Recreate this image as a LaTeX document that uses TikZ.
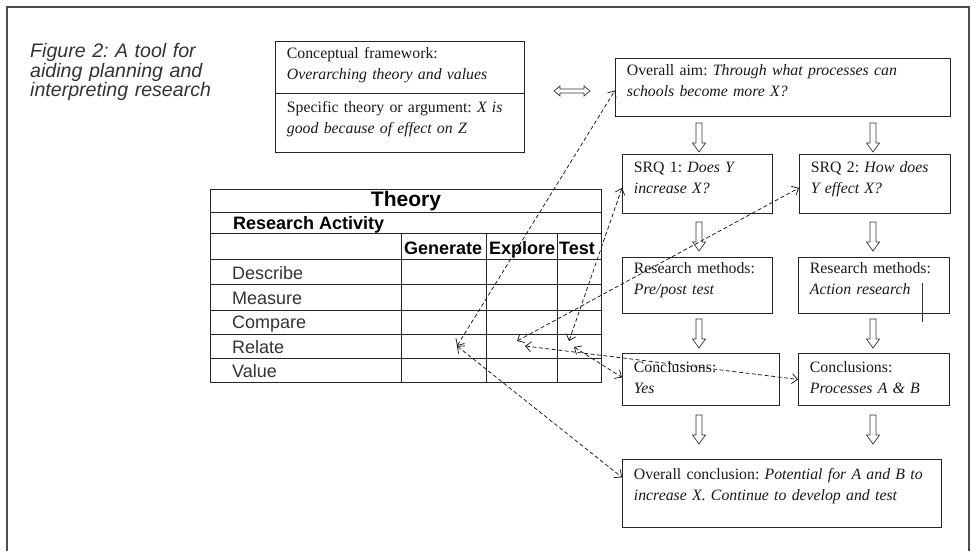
\documentclass[tikz,border=0pt]{standalone}
\usepackage{fontspec}
\setmainfont{Liberation Serif}
\newfontfamily\helv{Liberation Sans}
\usepackage{tikz}
\usetikzlibrary{arrows.meta}
\frenchspacing
\tikzset{
	box/.style={draw=black!85, line width=0.8pt, anchor=north west, align=left, inner xsep=11.5pt, inner ysep=0pt, text=black!90, font=\fontsize{15.8}{21}\selectfont},
	link/.style={draw=black!90, line width=0.75pt, dash pattern=on 4pt off 2.5pt, <->, >={Straight Barb[length=5.5pt,width=10pt]}},
	tab/.style={draw=black!85, line width=1pt},
	head/.style={anchor=base west, inner sep=0pt, font=\helv\bfseries\fontsize{18}{18}\selectfont},
	cell/.style={anchor=base west, inner sep=0pt, text=black!80, font=\helv\fontsize{18}{18}\selectfont},
	hollowdown/.pic={\draw[line width=0.7pt, draw=black!80, fill=white] (-3,0) -- (-3,20) -- (-6.5,20) -- (0,29) -- (6.5,20) -- (3,20) -- (3,0) -- cycle;},
	hollowboth/.pic={\draw[line width=0.7pt, draw=black!80, fill=white] (-18,0) -- (-12,-5) -- (-12,-2) -- (12,-2) -- (12,-5) -- (18,0) -- (12,5) -- (12,2) -- (-12,2) -- (-12,5) -- cycle;}
}
\begin{document}
\begin{tikzpicture}[x=1pt,y=-1pt]
	\useasboundingbox (0,0) rectangle (976,551);
	\draw[line width=1.6pt, draw=black!70] (6.8,551) -- (6.8,6.8) -- (969,6.8) -- (969,551);

	% caption
	\node[anchor=base west, inner sep=0pt, align=left, text width=260pt, text=black!80, font=\helv\itshape\fontsize{19.6}{19.2}\selectfont] (caption) at (30,58) {Figure 2: A tool for\\aiding planning and\\interpreting research};

	% framework
	\node[box, text width=226pt, text height=17pt, text depth=35pt] (frame) at (275,41) {Conceptual framework:\\\textit{Overarching theory and values}};
	\node[box, text width=226pt, text height=19pt, text depth=40pt] (argument) at (275,93) {Specific theory or argument: \textit{X is}\\\textit{good because of effect on Z}};
	\pic at (572,91) {hollowboth};

	% flow
	\node[box, text width=312pt, text height=17pt, text depth=41pt] (aim) at (615,58) {Overall aim: \textit{Through what processes can}\\\textit{schools become more X?}};
	\node[box, text width=127pt, text height=18pt, text depth=41pt] (srq1) at (622,154) {SRQ 1: \textit{Does Y}\\\textit{increase X?}};
	\node[box, text width=128pt, text height=18pt, text depth=41pt] (srq2) at (799,154) {SRQ 2: \textit{How does}\\\textit{Y effect X?}};
	\node[box, text width=127pt, text height=16pt, text depth=40pt] (methods1) at (622,257) {Research methods:\\\textit{Pre/post test}};
	\node[box, text width=128pt, text height=16pt, text depth=40pt] (methods2) at (798,257) {Research methods:\\\textit{Action research}};
	\node[box, text width=134pt, text height=19pt, text depth=33pt] (concl1) at (622,353) {Conclusions:\\\textit{Yes}};
	\node[box, text width=128pt, text height=19pt, text depth=33pt] (concl2) at (798,353) {Conclusions:\\\textit{Processes A \& B}};
	\node[box, text width=296pt, text height=20pt, text depth=48pt] (final) at (622,459) {Overall conclusion: \textit{Potential for A and B to}\\\textit{increase X. Continue to develop and test}};
	\draw[line width=0.7pt, draw=black!80] (922,283) -- (922,322);

	\pic at (699,123) {hollowdown};
	\pic at (873,123) {hollowdown};
	\pic at (699,222) {hollowdown};
	\pic at (873,222) {hollowdown};
	\pic at (699,319) {hollowdown};
	\pic at (873,319) {hollowdown};
	\pic at (699,415) {hollowdown};
	\pic at (873,415) {hollowdown};

	% table
	\draw[tab] (210,189) rectangle (601,382);
	\foreach \y in {212,233,259,284,310,334,358}
		\draw[tab] (210,\y) -- (601,\y);
	\foreach \x in {401,486,557}
		\draw[tab] (\x,233) -- (\x,382);
	\node[inner sep=0pt, font=\helv\bfseries\fontsize{21}{21}\selectfont] (theory) at (406,201) {Theory};
	\node[head] (activity) at (233,229) {Research Activity};
	\node[head] (generate) at (404,254) {Generate};
	\node[head] (explore) at (489,254) {Explore};
	\node[head] (test) at (559,254) {Test};
	\node[cell] (describe) at (232,279) {Describe};
	\node[cell] (measure) at (232,304) {Measure};
	\node[cell] (compare) at (232,328) {Compare};
	\node[cell] (relate) at (232,353) {Relate};
	\node[cell] (value) at (232,377) {Value};

	\coordinate (genrel) at (457,346);
	\coordinate (exprel1) at (517,341);
	\coordinate (exprel2) at (525,346);
	\coordinate (testrel1) at (569,341);
	\coordinate (testrel2) at (574,347);

	% links
	\draw[link] (genrel) -- ([yshift=-3pt]aim.west);
	\draw[link] (testrel1) -- ([yshift=-4pt]srq1.west);
	\draw[link] (exprel1) -- ([yshift=-4pt]srq2.west);
	\draw[link] (testrel2) -- ([yshift=2pt]concl1.west);
	\draw[link] (exprel2) -- (concl2.west);
	\draw[link] (genrel) -- ([yshift=16pt]final.west);
\end{tikzpicture}
\end{document}
